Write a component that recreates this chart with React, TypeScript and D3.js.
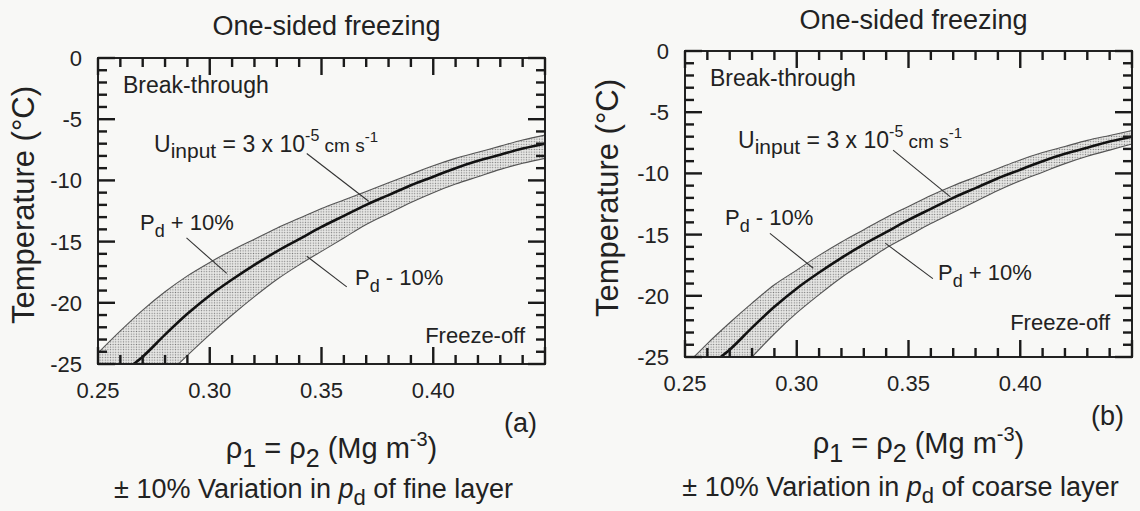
import React from 'react'
import * as d3 from 'd3'

// density of both layers (Mg m^-3) and temperature (deg C)
const rhoCentre = [0.266, 0.27, 0.28, 0.29, 0.30, 0.31, 0.32, 0.33, 0.34, 0.35, 0.36, 0.37, 0.38, 0.39, 0.40, 0.41, 0.42, 0.43, 0.44, 0.45]
const tempCentre = [-25, -24.4, -22.6, -20.9, -19.4, -18.1, -16.9, -15.8, -14.8, -13.8, -12.9, -12.0, -11.2, -10.4, -9.7, -9.0, -8.4, -7.9, -7.4, -7.0]

// (a) fine layer
const rhoFinePlus = [0.25, 0.26, 0.27, 0.28, 0.29, 0.30, 0.31, 0.32, 0.33, 0.34, 0.35, 0.36, 0.37, 0.38, 0.39, 0.40, 0.41, 0.42, 0.43, 0.44, 0.45]
const tempFinePlus = [-24.1, -22.3, -20.6, -19.1, -17.8, -16.7, -15.7, -14.8, -13.9, -13.1, -12.3, -11.6, -10.9, -10.2, -9.5, -8.8, -8.2, -7.7, -7.2, -6.7, -6.3]
const rhoFineMinus = [0.286, 0.29, 0.30, 0.31, 0.32, 0.33, 0.34, 0.35, 0.36, 0.37, 0.38, 0.39, 0.40, 0.41, 0.42, 0.43, 0.44, 0.45]
const tempFineMinus = [-25, -24.3, -22.6, -21.0, -19.5, -18.1, -16.9, -15.8, -14.7, -13.6, -12.7, -11.8, -11.0, -10.3, -9.7, -9.1, -8.6, -8.2]

// (b) coarse layer
const rhoCoarseMinus = [0.254, 0.26, 0.27, 0.28, 0.29, 0.30, 0.31, 0.32, 0.33, 0.34, 0.35, 0.36, 0.37, 0.38, 0.39, 0.40, 0.41, 0.42, 0.43, 0.44, 0.45]
const tempCoarseMinus = [-25, -23.9, -22.2, -20.6, -19.1, -17.9, -16.7, -15.6, -14.6, -13.6, -12.7, -11.8, -11.0, -10.3, -9.6, -8.9, -8.3, -7.8, -7.3, -6.9, -6.5]
const rhoCoarsePlus = [0.28, 0.29, 0.30, 0.31, 0.32, 0.33, 0.34, 0.35, 0.36, 0.37, 0.38, 0.39, 0.40, 0.41, 0.42, 0.43, 0.44, 0.45]
const tempCoarsePlus = [-25, -23.1, -21.4, -19.9, -18.5, -17.3, -16.1, -15.1, -14.1, -13.2, -12.3, -11.4, -10.6, -9.9, -9.2, -8.6, -8.1, -7.6]

const xTicks = ['0.25', '0.30', '0.35', '0.40']
const yTicks = ['0', '-5', '-10', '-15', '-20', '-25']

const FONT = 'Liberation Sans, Arial, Helvetica, sans-serif'
const INK = '#222'

type Pt = [number, number]
const zip = (xs: number[], ys: number[]): Pt[] => xs.map((x, i) => [x, ys[i]])

type PanelProps = {
  id: string
  box: { left: number; right: number; top: number; bottom: number }
  upper: Pt[]
  lower: Pt[]
  upperLabel: string
  lowerLabel: string
  letter: string
  layer: string
  // annotation placement, leader lines in data units
  upperLeader: [Pt, Pt]
  lowerLeader: [Pt, Pt]
  uLeader: [Pt, Pt]
  upperText: [number, number]
  lowerText: [number, number]
  uText: [number, number]
  freezeOff: [number, number]
  titleY: number
  xLabelY: number
  captionY: number
  yLabelX: number
}

function Pd({ x, y, sign }: { x: number; y: number; sign: string }) {
  return (
    <text x={x} y={y} fontSize={22} fontFamily={FONT} fill={INK}>
      <tspan>P</tspan>
      <tspan dy={7} fontSize={18}>d</tspan>
      <tspan dy={-7}>{` ${sign} 10%`}</tspan>
    </text>
  )
}

function Panel(p: PanelProps) {
  const { left, right, top, bottom } = p.box
  const x = d3.scaleLinear().domain([0.25, 0.45]).range([left, right])
  const y = d3.scaleLinear().domain([-25, 0]).range([bottom, top])
  const line = d3
    .line<Pt>()
    .x((d) => x(d[0]))
    .y((d) => y(d[1]))
    .curve(d3.curveMonotoneX)

  const centre = zip(rhoCentre, tempCentre)
  // close the band along the bottom axis
  const corner: Pt = [Math.min(p.upper[0][0], p.lower[0][0]), -25]
  const bandPath =
    line(p.upper)! +
    line([...p.lower].reverse())!.replace(/^M/, 'L') +
    `L${x(corner[0])},${y(corner[1])}Z`

  const MAJ = 17
  const MIN = 9
  const TW = 2.4
  const xTickVals = x.ticks(20)
  const yTickVals = y.ticks(25)

  const cx = (left + right) / 2
  const cy = (top + bottom) / 2

  const leader = (l: [Pt, Pt], k: string) => (
    <line key={k} x1={x(l[0][0])} y1={y(l[0][1])} x2={x(l[1][0])} y2={y(l[1][1])} stroke="#333" strokeWidth={1.1} />
  )

  return (
    <g>
      <defs>
        <clipPath id={`clip-${p.id}`}>
          <rect x={left} y={top} width={right - left} height={bottom - top} />
        </clipPath>
      </defs>
      <g clipPath={`url(#clip-${p.id})`}>
        <path d={bandPath} fill="url(#stipple)" stroke="none" />
        <path d={line(p.upper)!} fill="none" stroke="#555" strokeWidth={1.1} />
        <path d={line(p.lower)!} fill="none" stroke="#555" strokeWidth={1.1} />
        <path d={line(centre)!} fill="none" stroke="#111" strokeWidth={2.6} />
      </g>

      <rect x={left} y={top} width={right - left} height={bottom - top} fill="none" stroke={INK} strokeWidth={2} />

      {/* ticks on all four sides, pointing inward */}
      {xTickVals.map((v, i) => {
        const len = i % 5 === 0 ? MAJ : MIN
        return (
          <React.Fragment key={`xt${i}`}>
            <rect x={x(v) - TW / 2} y={bottom - len} width={TW} height={len} fill="#1a1a1a" />
            <rect x={x(v) - TW / 2} y={top} width={TW} height={len} fill="#1a1a1a" />
          </React.Fragment>
        )
      })}
      {yTickVals.map((v, i) => {
        const len = i % 5 === 0 ? MAJ : MIN
        return (
          <React.Fragment key={`yt${i}`}>
            <rect x={left} y={y(v) - TW / 2} width={len} height={TW} fill="#1a1a1a" />
            <rect x={right - len} y={y(v) - TW / 2} width={len} height={TW} fill="#1a1a1a" />
          </React.Fragment>
        )
      })}

      {xTicks.map((t) => (
        <text key={t} x={x(+t)} y={bottom + 34} textAnchor="middle" fontSize={22} fontFamily={FONT} fill={INK}>
          {t}
        </text>
      ))}
      {yTicks.map((t) => (
        <text key={t} x={left - 16} y={y(+t) + 8} textAnchor="end" fontSize={22} fontFamily={FONT} fill={INK}>
          {t}
        </text>
      ))}

      <text
        transform={`translate(${p.yLabelX},${cy - 6}) rotate(-90)`}
        textAnchor="middle"
        fontSize={31}
        fontFamily={FONT}
        fill={INK}
      >
        Temperature (°C)
      </text>

      <text x={cx + 5} y={p.titleY} textAnchor="middle" fontSize={27} fontFamily={FONT} fill={INK}>
        One-sided freezing
      </text>

      <text x={left + 25} y={top + 35} fontSize={23} fontFamily={FONT} fill={INK}>
        Break-through
      </text>
      <text x={p.freezeOff[0]} y={p.freezeOff[1]} textAnchor="end" fontSize={22} fontFamily={FONT} fill={INK}>
        Freeze-off
      </text>

      <text x={p.uText[0]} y={p.uText[1]} fontSize={23} fontFamily={FONT} fill={INK}>
        <tspan>U</tspan>
        <tspan dy={6} fontSize={21}>input</tspan>
        <tspan dy={-6}>{' = 3 x 10'}</tspan>
        <tspan dy={-11} fontSize={16}>-5</tspan>
        <tspan dy={11} fontSize={19}>{' cm s'}</tspan>
        <tspan dy={-10} fontSize={15}>-1</tspan>
      </text>

      <Pd x={p.upperText[0]} y={p.upperText[1]} sign={p.upperLabel} />
      <Pd x={p.lowerText[0]} y={p.lowerText[1]} sign={p.lowerLabel} />
      {leader(p.uLeader, 'lu')}
      {leader(p.upperLeader, 'lp')}
      {leader(p.lowerLeader, 'lm')}

      <text x={left + 406} y={bottom + 68} fontSize={27} fontFamily={FONT} fill={INK}>
        {`(${p.letter})`}
      </text>

      <text x={cx + 10} y={p.xLabelY} textAnchor="middle" fontSize={29} fontFamily={FONT} fill={INK}>
        <tspan>ρ</tspan>
        <tspan dy={9} fontSize={25}>1</tspan>
        <tspan dy={-9}>{' = ρ'}</tspan>
        <tspan dy={9} fontSize={25}>2</tspan>
        <tspan dy={-9}>{' (Mg m'}</tspan>
        <tspan dy={-12} fontSize={20}>-3</tspan>
        <tspan dy={12}>)</tspan>
      </text>

      <text x={cx - 8} y={p.captionY} textAnchor="middle" fontSize={27} fontFamily={FONT} fill={INK}>
        <tspan>{'± 10% Variation in '}</tspan>
        <tspan fontStyle="italic">p</tspan>
        <tspan dy={7} fontSize={22}>d</tspan>
        <tspan dy={-7}>{` of ${p.layer} layer`}</tspan>
      </text>
    </g>
  )
}

export default function App() {
  return (
    <svg width={1140} height={511} style={{ position: 'absolute', left: 0, top: 0 }}>
      <defs>
        <pattern id="stipple" width={2.6} height={2.6} patternUnits="userSpaceOnUse">
          <rect width={2.6} height={2.6} fill="#e6e6e4" />
          <circle cx={1.3} cy={1.3} r={0.65} fill="#7a7a7a" />
        </pattern>
      </defs>
      <rect width={1140} height={511} fill="#f8f8f6" />
      <Panel
        id="a"
        box={{ left: 98, right: 545, top: 58, bottom: 364 }}
        upper={zip(rhoFinePlus, tempFinePlus)}
        lower={zip(rhoFineMinus, tempFineMinus)}
        upperLabel="+"
        lowerLabel="-"
        letter="a"
        layer="fine"
        upperText={[140, 230]}
        lowerText={[355, 285]}
        uText={[154, 152]}
        upperLeader={[[0.2896, -14.7], [0.3076, -17.6]]}
        lowerLeader={[[0.3613, -18.7], [0.3434, -16.2]]}
        uLeader={[[0.3434, -7.8], [0.3711, -11.7]]}
        freezeOff={[525, 343]}
        titleY={35}
        xLabelY={458}
        captionY={498}
        yLabelX={34}
      />
      <Panel
        id="b"
        box={{ left: 685, right: 1132, top: 51, bottom: 357 }}
        upper={zip(rhoCoarseMinus, tempCoarseMinus)}
        lower={zip(rhoCoarsePlus, tempCoarsePlus)}
        upperLabel="-"
        lowerLabel="+"
        letter="b"
        layer="coarse"
        upperText={[725, 225]}
        lowerText={[938, 280]}
        uText={[738, 148]}
        upperLeader={[[0.288, -14.9], [0.3074, -17.75]]}
        lowerLeader={[[0.3609, -18.6], [0.3396, -15.7]]}
        uLeader={[[0.3431, -8.1], [0.3686, -11.9]]}
        freezeOff={[1110, 330]}
        titleY={29}
        xLabelY={453}
        captionY={496}
        yLabelX={618}
      />
    </svg>
  )
}
